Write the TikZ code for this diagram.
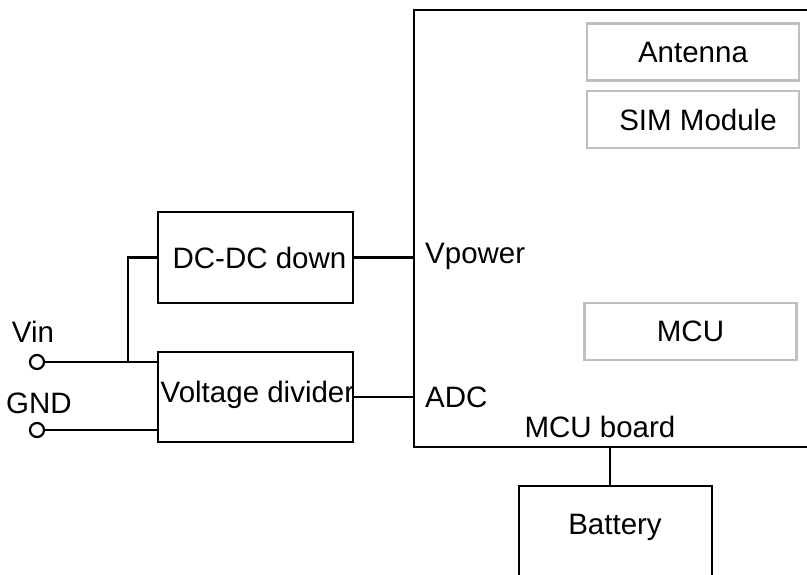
\documentclass[tikz,border=0pt]{standalone}
\usepackage{fontspec}
\setmainfont{Liberation Sans}
\begin{document}
\begin{tikzpicture}[x=1pt,y=-1pt,line width=2.4pt,
  font=\fontsize{29.5}{34}\selectfont,
  blkbox/.style={draw=black,line width=2.4pt,inner sep=0pt,minimum width=#1},
  grybox/.style={draw=black!25,line width=2.2pt,inner sep=0pt,minimum width=212pt,minimum height=57pt},
  term/.style={circle,draw=black,line width=2.2pt,inner sep=0pt,minimum size=14pt},
  lbl/.style={inner sep=0pt}]
\useasboundingbox (0,0) rectangle (807,574);
% MCU board
\node[blkbox=416pt,minimum height=437pt] (board) at (622,228.5) {};
\node[grybox] (ant) at (693,52) {Antenna};
\node[grybox] (sim) at (693,119.5) {\hspace{10pt}SIM Module};
\node[grybox] (mcu) at (690.5,331.5) {MCU};
\node[lbl,anchor=west] (vpow) at (424,256) {Vpower};
\node[lbl,anchor=west] (adc) at (424,397) {ADC};
\node[lbl] (bdl) at (600,427) {MCU board};
% left blocks
\node[blkbox=195pt,minimum height=91pt] (dc) at (255.5,257.5) {\hspace{8pt}DC-DC down};
\node[blkbox=195pt,minimum height=90pt] (vd) at (255.5,397) {};
\node[lbl] (vdt) at (257.5,395) {Voltage divider};
% terminals
\node[term] (vin) at (37,362) {};
\node[term] (gnd) at (37,430) {};
\node[lbl] (vinl) at (33,332) {Vin};
\node[lbl] (gndl) at (39,403) {GND};
\coordinate (j) at (128,362);
\draw (vin.east) -- (vin.east -| vd.west);
\draw (j) |- (dc.west);
\draw (gnd.east) -- (gnd.east -| vd.west);
\draw (dc.east) -- (dc.east -| board.west);
\draw (vd.east) -- (vd.east -| board.west);
% battery
\coordinate (bl) at (519,590);
\coordinate (br) at (712,590);
\draw (bl) -- (519,486) -- (712,486) -- (br);
\node[lbl] (bat) at (615,527) {Battery};
\coordinate (battop) at (610,486);
\draw (battop) -- (battop |- board.south);
\end{tikzpicture}
\end{document}
